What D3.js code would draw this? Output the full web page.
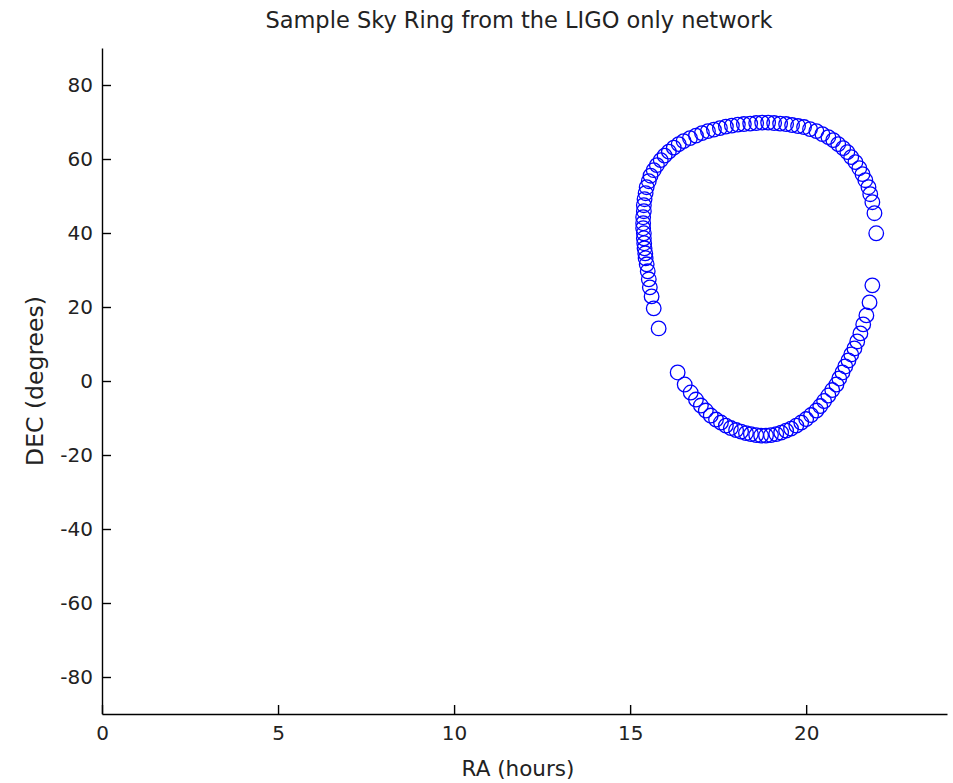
<!DOCTYPE html>
<html>
<head>
<meta charset="utf-8">
<script src="https://cdn.jsdelivr.net/npm/d3@7"></script>
<style>
  body { margin: 0; background: #fff; }
  svg { display: block; font-family: "DejaVu Sans", sans-serif; }
  .axis path, .axis line { stroke: #000; stroke-width: 1.4; }
  .axis text { fill: #222; font-size: 20px; font-family: "DejaVu Sans", sans-serif; }
</style>
</head>
<body>
<div id="chart"></div>
<script>
// sky ring samples: [RA hours, DEC degrees]
const upperArc = [
  [21.99, 39.93], [21.94, 45.35], [21.88, 48.33], [21.82, 50.49], [21.77, 52.38],
  [21.68, 54.27], [21.60, 55.90], [21.51, 57.52], [21.40, 59.15], [21.28, 60.50],
  [21.17, 61.86], [21.05, 62.94], [20.91, 64.02], [20.77, 65.11], [20.63, 65.92],
  [20.46, 66.73], [20.29, 67.54], [20.11, 68.08], [19.94, 68.63], [19.77, 68.90],
  [19.60, 69.17], [19.43, 69.44], [19.26, 69.57], [19.09, 69.71], [18.92, 69.84],
  [18.75, 69.84], [18.58, 69.71], [18.41, 69.57], [18.23, 69.44], [18.06, 69.30],
  [17.89, 69.03], [17.72, 68.76], [17.55, 68.35], [17.38, 67.95], [17.21, 67.54],
  [17.04, 67.00], [16.87, 66.32], [16.70, 65.65], [16.52, 64.83], [16.38, 64.02],
  [16.24, 63.07], [16.10, 61.99], [15.98, 60.91], [15.87, 59.69], [15.76, 58.34],
  [15.67, 56.98], [15.58, 55.49], [15.53, 54.00], [15.47, 52.38], [15.44, 50.76],
  [15.41, 49.14], [15.39, 47.51], [15.39, 45.89], [15.37, 44.26], [15.37, 42.64],
  [15.37, 41.29], [15.39, 39.93], [15.39, 38.58], [15.40, 37.23], [15.41, 35.87],
  [15.43, 34.52], [15.44, 33.17], [15.47, 31.54], [15.50, 29.65], [15.53, 27.48],
  [15.56, 25.31], [15.61, 22.87], [15.67, 19.63], [15.81, 14.21]
];

const lowerArc = [
  [16.35, 2.30], [16.55, -0.95], [16.72, -3.11], [16.87, -5.01], [17.01, -6.63],
  [17.15, -7.99], [17.29, -9.34], [17.44, -10.42], [17.58, -11.23], [17.72, -12.05],
  [17.86, -12.72], [18.01, -13.26], [18.15, -13.67], [18.29, -14.08], [18.43, -14.35],
  [18.58, -14.62], [18.72, -14.75], [18.86, -14.75], [19.00, -14.62], [19.15, -14.35],
  [19.29, -13.94], [19.43, -13.40], [19.57, -12.86], [19.72, -12.05], [19.86, -11.23],
  [20.00, -10.29], [20.14, -9.20], [20.29, -7.99], [20.40, -6.77], [20.51, -5.41],
  [20.63, -3.92], [20.74, -2.44], [20.86, -0.95], [20.94, 0.68], [21.03, 2.30],
  [21.11, 3.92], [21.20, 5.55], [21.28, 7.17], [21.37, 8.80], [21.45, 10.69],
  [21.54, 12.86], [21.62, 15.30], [21.71, 17.73], [21.80, 21.25], [21.88, 25.85]
];

const xTicks = [0, 5, 10, 15, 20];
const yTicks = [-80, -60, -40, -20, 0, 20, 40, 60, 80];
const xDomain = [0, 24];
const yDomain = [-90, 90];

const title = 'Sample Sky Ring from the LIGO only network';
const xLabel = 'RA (hours)';
const yLabel = 'DEC (degrees)';

const W = 953, H = 783;
const margin = {top: 48, right: 6, bottom: 69, left: 102};
const width = W - margin.left - margin.right;
const height = H - margin.top - margin.bottom;

const svg = d3.select('#chart').append('svg').attr('width', W).attr('height', H);
const g = svg.append('g').attr('transform', `translate(${margin.left},${margin.top})`);

const x = d3.scaleLinear().domain(xDomain).range([0, width]);
const y = d3.scaleLinear().domain(yDomain).range([height, 0]);

// plain hyphen for negatives, as in the original
const fmt = d => String(d);

// axes, ticks pointing inward like matlab
g.append('g').attr('class', 'axis')
    .attr('transform', `translate(0,${height})`)
    .call(d3.axisBottom(x).tickValues(xTicks).tickFormat(fmt)
        .tickSizeInner(-9).tickSizeOuter(0).tickPadding(12));

g.append('g').attr('class', 'axis')
    .call(d3.axisLeft(y).tickValues(yTicks).tickFormat(fmt)
        .tickSizeInner(-9).tickSizeOuter(0).tickPadding(9));

g.selectAll('.axis .domain').attr('fill', 'none');

// ring markers
const points = upperArc.concat(lowerArc);
g.append('g').selectAll('circle')
    .data(points)
    .enter().append('circle')
    .attr('cx', d => x(d[0]))
    .attr('cy', d => y(d[1]))
    .attr('r', 7.3)
    .attr('fill', 'none')
    .attr('stroke', '#0000ff')
    .attr('stroke-width', 1.3);

// labels
svg.append('text')
    .attr('x', 519)
    .attr('y', 28)
    .attr('text-anchor', 'middle')
    .attr('fill', '#222')
    .style('font-size', '22.5px')
    .text(title);

svg.append('text')
    .attr('x', 518)
    .attr('y', 776)
    .attr('text-anchor', 'middle')
    .attr('fill', '#222')
    .style('font-size', '21.5px')
    .text(xLabel);

svg.append('text')
    .attr('transform', `translate(43,${margin.top + height / 2}) rotate(-90)`)
    .attr('text-anchor', 'middle')
    .attr('fill', '#222')
    .style('font-size', '23.5px')
    .text(yLabel);
</script>
</body>
</html>
